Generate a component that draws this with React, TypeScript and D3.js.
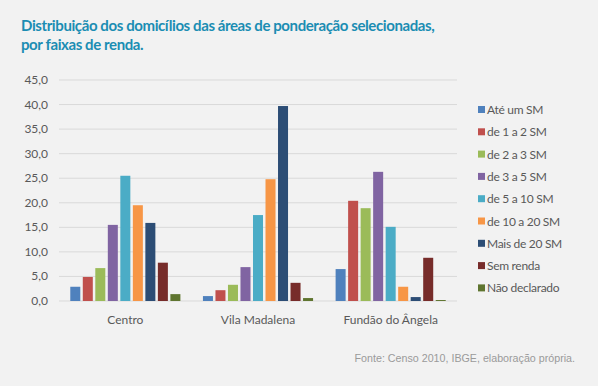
import React from "react";
import * as d3 from "d3";

const categories = ["Centro", "Vila Madalena", "Fundão do Ângela"];
const seriesNames = [
  "Até um SM",
  "de 1 a 2 SM",
  "de 2 a 3 SM",
  "de 3 a 5 SM",
  "de 5 a 10 SM",
  "de 10 a 20 SM",
  "Mais de 20 SM",
  "Sem renda",
  "Não declarado",
];
const seriesColors = ["#4F81BD", "#C0504D", "#9BBB59", "#8064A2", "#4BACC6", "#F79646", "#2C4D75", "#772C2A", "#5F7530"];
// values[series][category]
const ateUm = [2.9, 1.0, 6.5];
const de1a2 = [4.9, 2.2, 20.4];
const de2a3 = [6.7, 3.3, 18.9];
const de3a5 = [15.5, 6.9, 26.3];
const de5a10 = [25.5, 17.5, 15.1];
const de10a20 = [19.5, 24.8, 2.9];
const mais20 = [15.9, 39.7, 0.8];
const semRenda = [7.8, 3.7, 8.8];
const naoDecl = [1.4, 0.6, 0.2];
const seriesValues = [ateUm, de1a2, de2a3, de3a5, de5a10, de10a20, mais20, semRenda, naoDecl];
const yTicks = [0, 5, 10, 15, 20, 25, 30, 35, 40, 45];

export default function App() {
  const W = 598, H = 386;
  const left = 59, right = 457, top = 80, bottom = 301;
  const x = d3.scaleBand<string>().domain(categories).range([left, right]).paddingInner(0.17).paddingOuter(0.085);
  const x1 = d3.scaleBand<number>().domain(d3.range(seriesNames.length)).range([0, x.bandwidth()]).paddingInner(0.2);
  const y = d3.scaleLinear().domain([0, 45]).range([bottom, top]);
  const fmt = (v: number) => v.toFixed(1).replace(".", ",");
  const font = "Lato, 'Open Sans', sans-serif";
  return (
    <svg width={W} height={H} style={{ position: "absolute", left: 0, top: 0, background: "#F2F2F2" }}>
      <rect x={0} y={0} width={W} height={H} fill="#F2F2F2" />
      <text x={21} y={31} fontFamily={font} fontWeight={700} fontSize={15} letterSpacing={-0.4} fill="#1B8DB3">
        Distribuição dos domicílios das áreas de ponderação selecionadas,
      </text>
      <text x={21} y={50} fontFamily={font} fontWeight={700} fontSize={15} letterSpacing={-0.4} fill="#1B8DB3">
        por faixas de renda.
      </text>
      {yTicks.map((t) => (
        <g key={t}>
          <line x1={left} x2={right} y1={y(t)} y2={y(t)} stroke="#D9D9D9" strokeWidth={1} />
          <text x={48} y={y(t) + 4} textAnchor="end" fontFamily={font} fontSize={12} fill="#595959">
            {fmt(t)}
          </text>
        </g>
      ))}
      {categories.map((c, ci) => (
        <g key={c}>
          {seriesValues.map((vals, si) => (
            <rect
              key={si}
              x={(x(c) as number) + (x1(si) as number)}
              y={y(vals[ci])}
              width={x1.bandwidth()}
              height={bottom - y(vals[ci])}
              fill={seriesColors[si]}
            />
          ))}
          <text x={(x(c) as number) + x.bandwidth() / 2} y={324} textAnchor="middle" fontFamily={font} fontSize={12} fill="#595959">
            {c}
          </text>
        </g>
      ))}
      {seriesNames.map((n, i) => (
        <g key={n} transform={`translate(478, ${110 + i * 22.3})`}>
          <rect x={0} y={-4} width={7} height={7} fill={seriesColors[i]} />
          <text x={9} y={4} fontFamily={font} fontSize={12} fill="#595959" letterSpacing={-0.3}>
            {n}
          </text>
        </g>
      ))}
      <text x={575} y={362} textAnchor="end" fontFamily="Arial, 'Liberation Sans', sans-serif" fontSize={10.7} fill="#9A9A9A">
        Fonte: Censo 2010, IBGE, elaboração própria.
      </text>
    </svg>
  );
}
